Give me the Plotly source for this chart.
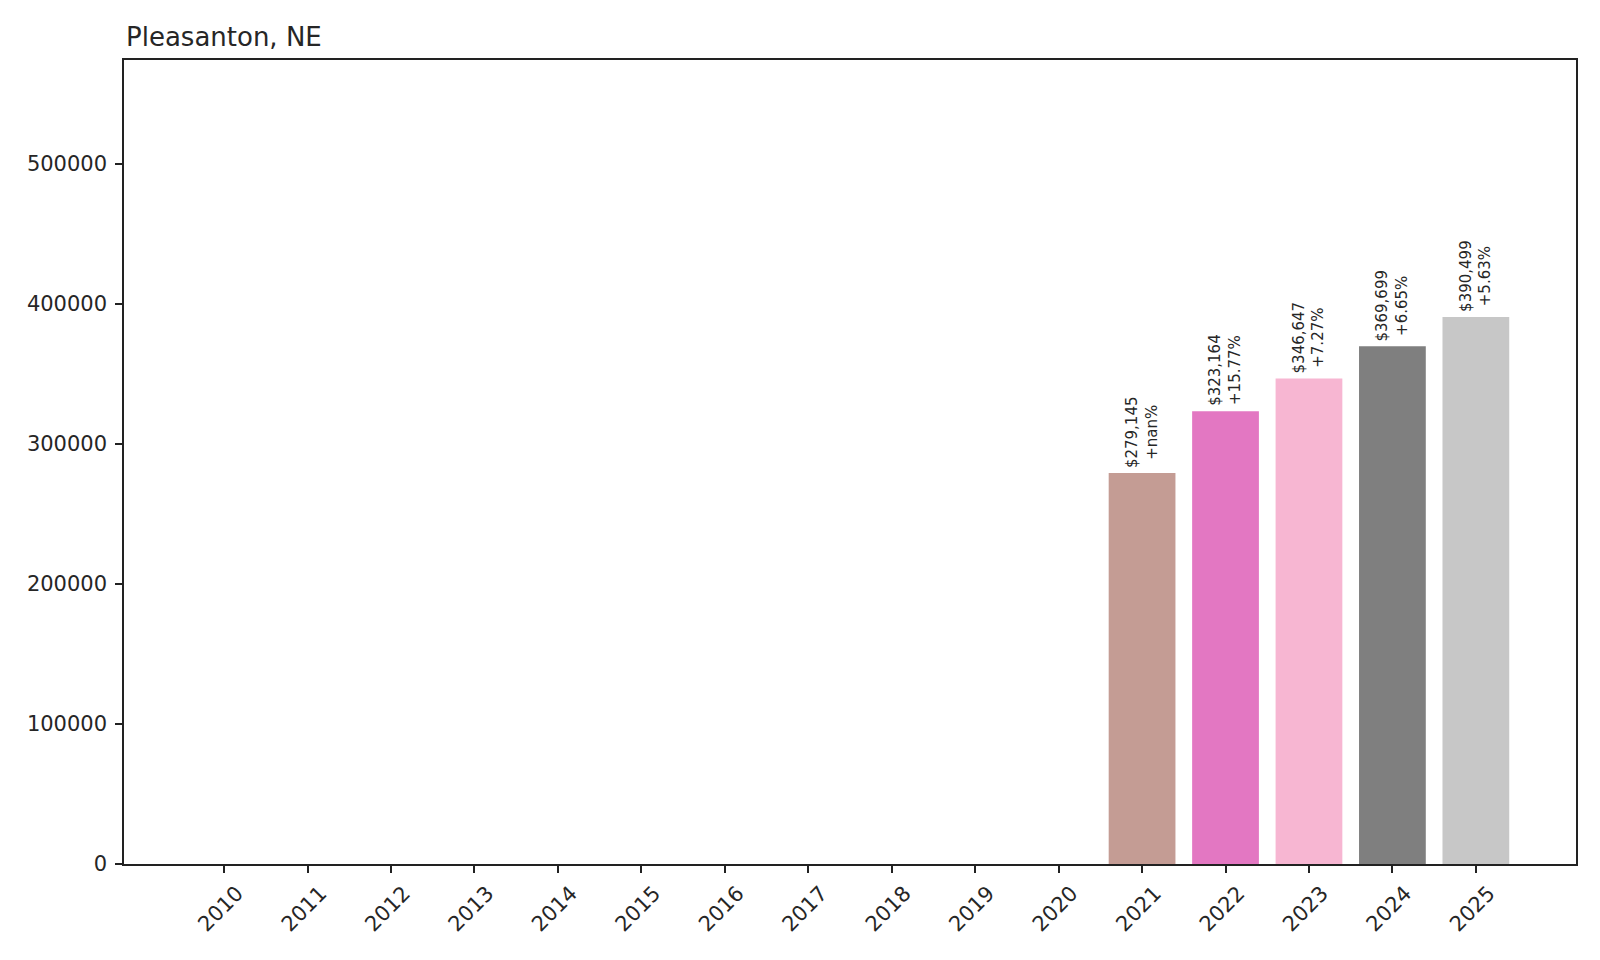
import pandas as pd
import plotly.graph_objects as go

# data
years = [str(y) for y in range(2010, 2026)]
home_values = [None] * 11 + [279145, 323164, 346647, 369699, 390499]

# matplotlib tab20, one colour per year in order
tab20 = [
    "#1f77b4", "#aec7e8", "#ff7f0e", "#ffbb78", "#2ca02c", "#98df8a",
    "#d62728", "#ff9896", "#9467bd", "#c5b0d5", "#8c564b", "#c49c94",
    "#e377c2", "#f7b6d2", "#7f7f7f", "#c7c7c7",
]

font_family = "DejaVu Sans"
text_color = "#262626"

s = pd.Series(home_values, index=years, dtype="float64")
pct = s.pct_change(fill_method=None) * 100

fig = go.Figure()
fig.add_trace(
    go.Bar(
        x=years,
        y=s.values,
        width=0.8,
        marker=dict(color=tab20[: len(years)], line=dict(width=0)),
        showlegend=False,
        hoverinfo="x+y",
    )
)

# value / change labels above each bar (rotated like the original)
annotations = []
for i, (year, val) in enumerate(s.items()):
    if pd.isna(val):
        continue
    p = pct[year]
    label = f"${val:,.0f}<br>+{p:.2f}%" if not pd.isna(p) else f"${val:,.0f}<br>+nan%"
    annotations.append(
        dict(
            x=i,  # category index, "2021" as a string gets read as a number
            y=val,
            xref="x",
            yref="y",
            text=label,
            textangle=-90,
            showarrow=False,
            xanchor="center",
            yanchor="bottom",
            yshift=3,
            font=dict(family=font_family, size=15, color=text_color),
        )
    )

# title, left aligned over the axes like plt.title(loc="left")
annotations.append(
    dict(
        x=0,
        y=1,
        xref="paper",
        yref="paper",
        text="Pleasanton, NE",
        showarrow=False,
        xanchor="left",
        yanchor="bottom",
        yshift=6,
        font=dict(family=font_family, size=26, color=text_color),
    )
)

axis_style = dict(
    showgrid=False,
    zeroline=False,
    showline=True,
    linecolor="#222222",
    linewidth=1.5,
    mirror=True,
    ticks="outside",
    ticklen=7,
    tickwidth=1.5,
    tickcolor="#222222",
    tickfont=dict(family=font_family, size=21, color=text_color),
)

fig.update_xaxes(
    type="category",
    range=[-1.2, len(years) - 1 + 1.2],
    tickangle=-45,
    ticklabelshift=13,
    **axis_style,
)
fig.update_yaxes(
    range=[0, 574000],
    dtick=100000,
    tickformat="d",
    ticklabelstandoff=4,
    **axis_style,
)

# page body has an 8px margin, so the margins are pulled in by 8px
fig.update_layout(
    width=1600,
    height=960,
    margin=dict(l=116, r=32, t=52, b=104),
    plot_bgcolor="white",
    paper_bgcolor="white",
    annotations=annotations,
    bargap=0.2,
)

fig.write_html("out.html")
